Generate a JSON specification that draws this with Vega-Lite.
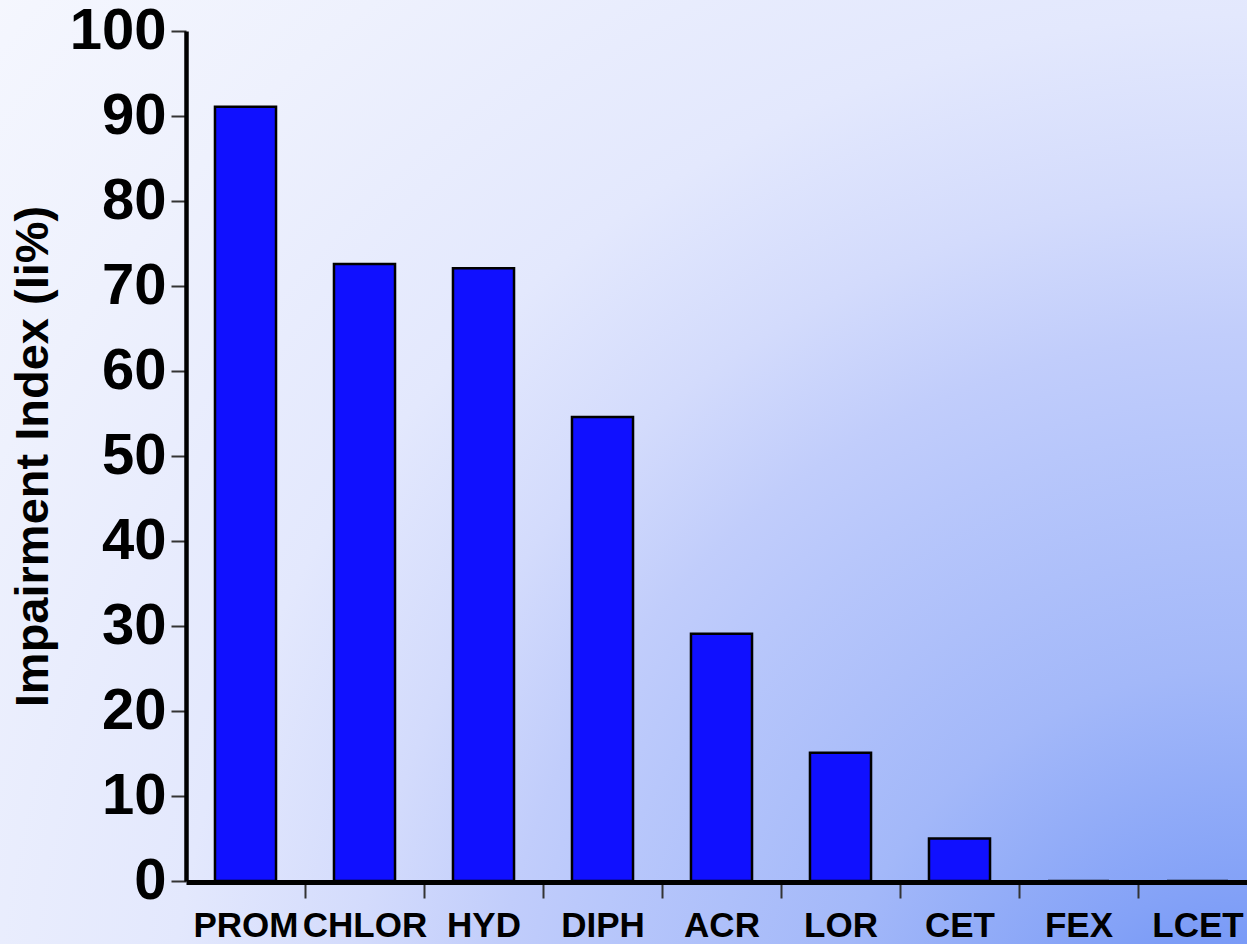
{
  "$schema": "https://vega.github.io/schema/vega-lite/v6.json",
  "width": 1247,
  "height": 944,
  "autosize": {"type": "none"},
  "padding": 0,
  "background": "#f2f4fd",
  "config": {
    "font": "Liberation Sans",
    "view": {
      "stroke": null,
      "fill": {
        "gradient": "radial",
        "x1": 1, "y1": 1, "r1": 0,
        "x2": 1, "y2": 1, "r2": 1.35,
        "stops": [
          {"offset": 0, "color": "#6f93f6"},
          {"offset": 0.093, "color": "#7a9bf7"},
          {"offset": 0.127, "color": "#84a2f7"},
          {"offset": 0.254, "color": "#a3b8f9"},
          {"offset": 0.396, "color": "#b8c7fb"},
          {"offset": 0.452, "color": "#c1cdfb"},
          {"offset": 0.535, "color": "#d3dbfc"},
          {"offset": 0.642, "color": "#e3e8fd"},
          {"offset": 0.832, "color": "#eef1fd"},
          {"offset": 0.969, "color": "#f4f6fe"},
          {"offset": 1, "color": "#f6f7fe"}
        ]
      }
    }
  },
  "data": {
    "values": [
      {"drug": "PROM", "ii": 91.1},
      {"drug": "CHLOR", "ii": 72.6},
      {"drug": "HYD", "ii": 72.1},
      {"drug": "DIPH", "ii": 54.6},
      {"drug": "ACR", "ii": 29.1},
      {"drug": "LOR", "ii": 15.1},
      {"drug": "CET", "ii": 5.0},
      {"drug": "FEX", "ii": 0},
      {"drug": "LCET", "ii": 0}
    ]
  },
  "mark": {"type": "bar", "fill": "#1010ff", "stroke": "#000000", "strokeWidth": 2.5},
  "encoding": {
    "x": {
      "field": "drug",
      "type": "nominal",
      "sort": null,
      "scale": {"range": [186, 1257], "paddingInner": 0.487, "paddingOuter": 0.2435},
      "axis": {
        "title": null,
        "orient": "bottom",
        "offset": -62,
        "labelAngle": 0,
        "labelFont": "Liberation Sans",
        "labelFontWeight": "bold",
        "labelFontSize": 35,
        "labelColor": "#000000",
        "labelPadding": 10,
        "labelOverlap": false,
        "labelLimit": 0,
        "labelFlush": false,
        "tickOffset": 59.5,
        "labelOffset": -59.5,
        "tickSize": 16,
        "tickWidth": 2,
        "tickColor": "#333333",
        "domainColor": "#000000",
        "domainWidth": 5,
        "zindex": 1
      }
    },
    "y": {
      "field": "ii",
      "type": "quantitative",
      "scale": {"domain": [0, 100], "range": [881, 31], "nice": false},
      "axis": {
        "title": "Impairment Index (Ii%)",
        "orient": "left",
        "offset": -186,
        "values": [0, 10, 20, 30, 40, 50, 60, 70, 80, 90, 100],
        "grid": false,
        "labelFont": "Liberation Sans",
        "labelFontWeight": "bold",
        "labelFontSize": 58,
        "labelColor": "#000000",
        "labelPadding": 5,
        "labelOverlap": false,
        "labelFlush": false,
        "tickSize": 15,
        "tickWidth": 2,
        "tickColor": "#333333",
        "domainColor": "#000000",
        "domainWidth": 4.5,
        "titleFont": "Liberation Sans",
        "titleFontWeight": "bold",
        "titleFontSize": 47,
        "titleColor": "#000000",
        "titlePadding": 12,
        "zindex": 1
      }
    }
  }
}
